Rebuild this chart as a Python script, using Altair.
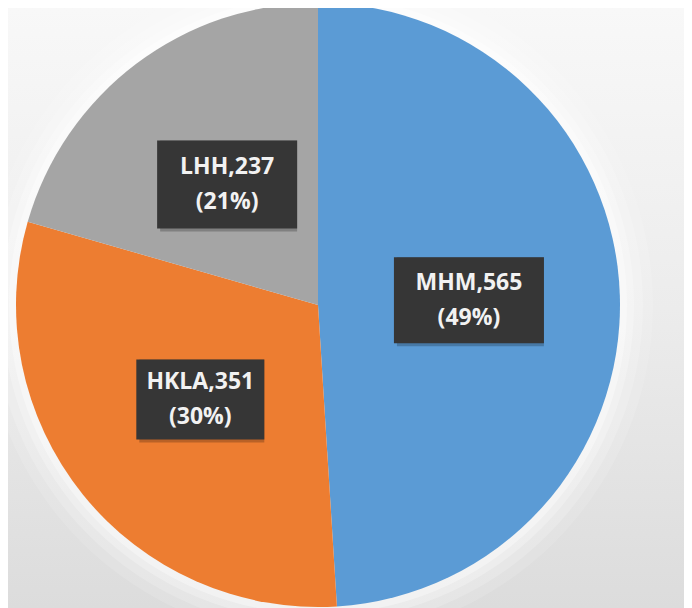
import altair as alt
import numpy as np
import pandas as pd

# ---- data ----
categories = ["MHM", "HKLA", "LHH"]
values = [565, 351, 237]
percents = ["49%", "30%", "21%"]
colors = ["#5b9bd5", "#ed7d31", "#a5a5a5"]

# ---- layout / style ----
W, H = 676, 600
CX, CY, R = 310, 297, 302
LABEL_R = 0.5
LINE_H = 35
BOX_W = {"MHM": 150, "HKLA": 128, "LHH": 140}
BOX_H = {"MHM": 86, "HKLA": 80, "LHH": 88}

df = pd.DataFrame({"cat": categories, "val": values, "pct": percents,
                   "idx": range(len(categories))})
total = df["val"].sum()
cum = df["val"].cumsum() - df["val"] / 2
mid = cum / total * 2 * np.pi
df["lx"] = LABEL_R * np.sin(mid)
df["ly"] = LABEL_R * np.cos(mid)
df["label"] = df["cat"] + "," + df["val"].astype(str) + "\n(" + df["pct"] + ")"
df["x1"] = df["lx"] - df["cat"].map(BOX_W) / 2 / R
df["x2"] = df["lx"] + df["cat"].map(BOX_W) / 2 / R
df["y1"] = df["ly"] - df["cat"].map(BOX_H) / 2 / R
df["y2"] = df["ly"] + df["cat"].map(BOX_H) / 2 / R

xs = alt.Scale(domain=[-1, 1], range=[CX - R, CX + R])
ys = alt.Scale(domain=[-1, 1], range=[CY + R, CY - R])

bg = alt.Chart(pd.DataFrame({"a": [0]})).mark_rect(
    color=alt.LinearGradient(
        gradient="linear", x1=0, x2=0, y1=0, y2=1,
        stops=[alt.GradientStop(color="#f8f8f8", offset=0),
               alt.GradientStop(color="#ececec", offset=0.5),
               alt.GradientStop(color="#dcdcdc", offset=1)])
).encode(x=alt.value(0), x2=alt.value(W), y=alt.value(0), y2=alt.value(H))

halos = []
for r, op in [(335, 0.12), (325, 0.18), (316, 0.25), (309, 0.35)]:
    halos.append(
        alt.Chart(pd.DataFrame({"a": [0]})).mark_arc(
            outerRadius=r, theta=0, theta2=2 * np.pi, color="white", opacity=op
        ).encode(x=alt.value(CX), y=alt.value(CY))
    )

pie = alt.Chart(df).mark_arc(outerRadius=R, stroke=None).encode(
    theta=alt.Theta("val:Q", stack=True),
    order=alt.Order("idx:Q"),
    color=alt.Color("cat:N", scale=alt.Scale(domain=categories, range=colors), legend=None),
    x=alt.value(CX), y=alt.value(CY),
)

shadow = alt.Chart(df).mark_rect(color="#000000", opacity=0.22, xOffset=3, yOffset=3).encode(
    x=alt.X("x1:Q", scale=xs, axis=None), x2="x2:Q",
    y=alt.Y("y1:Q", scale=ys, axis=None), y2="y2:Q",
)
boxes = alt.Chart(df).mark_rect(color="#363636").encode(
    x=alt.X("x1:Q", scale=xs, axis=None), x2="x2:Q",
    y=alt.Y("y1:Q", scale=ys, axis=None), y2="y2:Q",
)
texts = alt.Chart(df).mark_text(
    font="Open Sans", fontWeight="bold", fontSize=23, color="#f2f2f2",
    lineBreak="\n", lineHeight=LINE_H, align="center", baseline="middle",
    dy=-LINE_H / 2,
).encode(
    x=alt.X("lx:Q", scale=xs, axis=None),
    y=alt.Y("ly:Q", scale=ys, axis=None),
    text="label:N",
)

chart = alt.layer(bg, *halos, pie, shadow, boxes, texts).properties(
    width=W, height=H, padding=0,
    autosize=alt.AutoSizeParams(type="none"),
    background="#f0f0f0",
).configure_view(stroke=None)

chart.save("out.html", embed_options={"renderer": "svg", "actions": False})
